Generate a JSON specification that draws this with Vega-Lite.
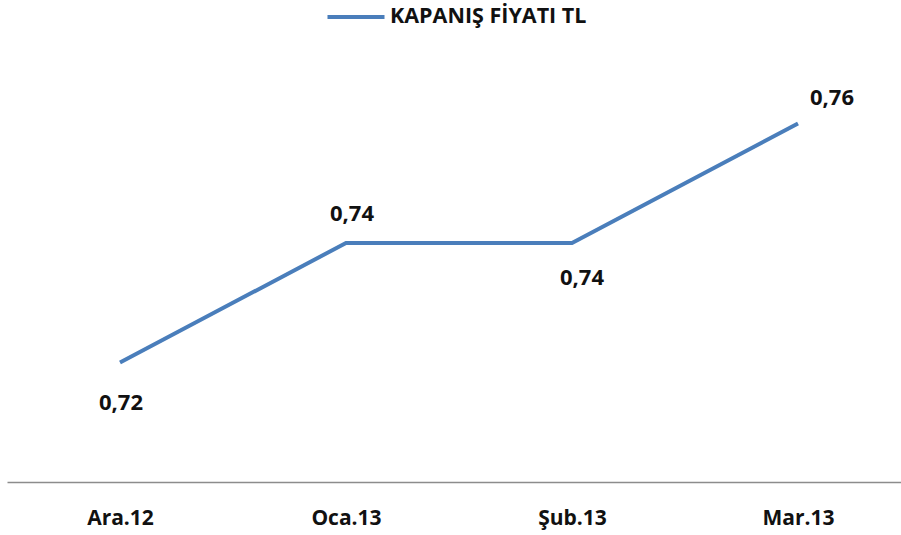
{
  "$schema": "https://vega.github.io/schema/vega-lite/v6.json",
  "width": 904,
  "height": 478,
  "autosize": {"type": "none"},
  "padding": {"left": 7, "top": 4, "right": 0, "bottom": 53},
  "background": "white",
  "config": {
    "view": {"stroke": null},
    "locale": {"number": {"decimal": ",", "thousands": ".", "grouping": [3], "currency": ["", " TL"]}},
    "font": "Open Sans"
  },
  "data": {
    "values": [
      {"ay": "Ara.12", "fiyat": 0.72, "seri": "KAPANIŞ FİYATI TL"},
      {"ay": "Oca.13", "fiyat": 0.74, "seri": "KAPANIŞ FİYATI TL"},
      {"ay": "Şub.13", "fiyat": 0.74, "seri": "KAPANIŞ FİYATI TL"},
      {"ay": "Mar.13", "fiyat": 0.76, "seri": "KAPANIŞ FİYATI TL"}
    ]
  },
  "encoding": {
    "x": {
      "field": "ay", "type": "ordinal", "sort": null,
      "scale": {"type": "point", "padding": 0.5},
      "axis": {"title": null, "labelAngle": 0, "ticks": false, "domainColor": "#8c8c8c", "domainWidth": 1.5, "grid": false,
        "labelFont": "Open Sans", "labelFontWeight": "bold", "labelFontSize": 21, "labelColor": "#111", "labelPadding": 25}
    },
    "y": {
      "field": "fiyat", "type": "quantitative",
      "scale": {"domain": [0.70, 0.78], "zero": false, "nice": false},
      "axis": null
    }
  },
  "layer": [
    {
      "mark": {"type": "line", "strokeWidth": 4},
      "encoding": {
        "color": {
          "field": "seri", "type": "nominal",
          "scale": {"range": ["#4a7ebb"]},
          "legend": {"title": null, "orient": "none", "legendX": 318, "legendY": -18, "symbolType": "stroke", "symbolStrokeWidth": 4, "symbolSize": 3250,
            "labelFont": "Open Sans", "labelFontWeight": "bold", "labelFontSize": 21.5, "labelColor": "#111", "labelOffset": 3, "labelLimit": 500}
        }
      }
    },
    {
      "transform": [{"filter": "datum.ay == 'Ara.12'"}],
      "mark": {"type": "text", "dy": 40, "dx": 1, "fontWeight": "bold", "fontSize": 22, "color": "#111", "font": "Open Sans"},
      "encoding": {"text": {"field": "fiyat", "type": "quantitative", "format": ".2f"}}
    },
    {
      "transform": [{"filter": "datum.ay == 'Oca.13'"}],
      "mark": {"type": "text", "dy": -29, "dx": 6, "fontWeight": "bold", "fontSize": 22, "color": "#111", "font": "Open Sans"},
      "encoding": {"text": {"field": "fiyat", "type": "quantitative", "format": ".2f"}}
    },
    {
      "transform": [{"filter": "datum.ay == 'Şub.13'"}],
      "mark": {"type": "text", "dy": 35, "dx": 10, "fontWeight": "bold", "fontSize": 22, "color": "#111", "font": "Open Sans"},
      "encoding": {"text": {"field": "fiyat", "type": "quantitative", "format": ".2f"}}
    },
    {
      "transform": [{"filter": "datum.ay == 'Mar.13'"}],
      "mark": {"type": "text", "dy": -26, "dx": 34, "fontWeight": "bold", "fontSize": 22, "color": "#111", "font": "Open Sans"},
      "encoding": {"text": {"field": "fiyat", "type": "quantitative", "format": ".2f"}}
    }
  ]
}
